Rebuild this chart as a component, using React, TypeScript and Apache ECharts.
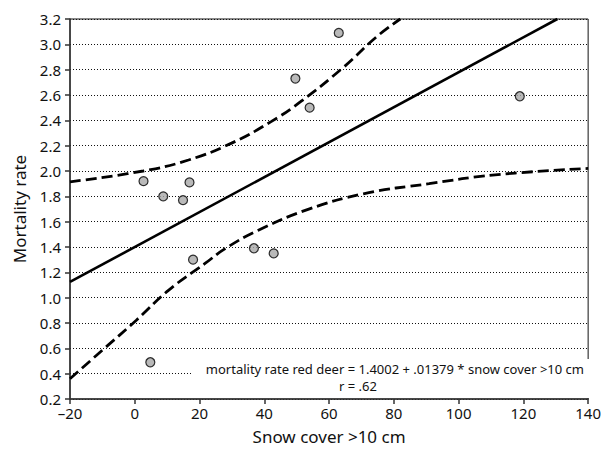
import React, { useEffect, useRef } from "react";
import * as echarts from "echarts";

// Observed data points (snow cover > 10 cm, mortality rate)
const snowCover = [2.7, 8.8, 14.9, 16.9, 18.0, 36.8, 42.9, 4.8, 63.0, 54.0, 118.9, 49.6];
const mortality = [1.92, 1.8, 1.77, 1.91, 1.3, 1.39, 1.35, 0.49, 3.09, 2.5, 2.59, 2.73];

// Regression line endpoints (y = 1.4002 + .01379x), clipped at the plot top
const fitX = [-20, 130.5];
const fitY = [1.124, 3.2];

// Confidence band curves
const upperX = [-20, 2.6, 16.6, 29.9, 42.1, 51.2, 64.5, 74.7, 82.0];
const upperY = [1.915, 2.0, 2.087, 2.22, 2.39, 2.547, 2.82, 3.06, 3.2];
const lowerX = [-20, -9.8, 0.4, 10.5, 21.7, 27.8, 38, 53.3, 70.6, 90.9, 111.3, 140];
const lowerY = [0.36, 0.59, 0.82, 1.06, 1.27, 1.385, 1.53, 1.695, 1.82, 1.9, 1.97, 2.02];

const xTicks = { min: -20, max: 140, interval: 20 };
const yTicks = { min: 0.2, max: 3.2, interval: 0.2 };

const equationText = "mortality rate red deer = 1.4002 + .01379 * snow cover >10 cm";
const rText = "r = .62";

const FONT = "Noto Sans";

function pairs(xs: number[], ys: number[]) {
  return xs.map((x, i) => [x, ys[i]]);
}

export default function App() {
  const ref = useRef<HTMLDivElement>(null);
  useEffect(() => {
    if (!ref.current) return;
    const chart = echarts.init(ref.current, undefined, { renderer: "svg" });
    chart.setOption({
      animation: false,
      backgroundColor: "#fff",
      textStyle: { fontFamily: FONT },
      grid: {
        left: 70,
        right: 10,
        top: 19,
        bottom: 54,
        show: true,
        borderColor: "#111",
        borderWidth: 1,
        backgroundColor: "transparent",
      },
      xAxis: {
        type: "value",
        min: xTicks.min,
        max: xTicks.max,
        interval: xTicks.interval,
        name: "Snow cover >10 cm",
        nameLocation: "middle",
        nameGap: 29,
        nameTextStyle: { fontSize: 17, color: "#111", fontFamily: FONT },
        axisLine: { show: true, onZero: false, lineStyle: { color: "#333", width: 1.5 } },
        axisTick: { show: true, length: 5, lineStyle: { color: "#333", width: 1.5 } },
        axisLabel: {
          fontSize: 15,
          color: "#111",
          margin: 6,
          fontFamily: FONT,
          formatter: (v: number) => (v < 0 ? "\u2013" + Math.abs(v) : String(v)),
        },
        splitLine: { show: false },
      },
      yAxis: {
        type: "value",
        min: yTicks.min,
        max: yTicks.max,
        interval: yTicks.interval,
        name: "Mortality rate",
        nameLocation: "middle",
        nameGap: 42,
        nameTextStyle: { fontSize: 17, color: "#111", fontFamily: FONT },
        axisLine: { show: true, onZero: false, lineStyle: { color: "#333", width: 1.5 } },
        axisTick: { show: true, length: 5, lineStyle: { color: "#333", width: 1.5 } },
        axisLabel: {
          fontSize: 15,
          color: "#111",
          margin: 9,
          fontFamily: FONT,
          formatter: (v: number) => v.toFixed(1),
        },
        splitLine: { show: true, lineStyle: { color: "#111", type: [1, 2], width: 1 } },
      },
      series: [
        {
          type: "line",
          data: pairs(fitX, fitY),
          symbol: "none",
          lineStyle: { color: "#000", width: 2.6 },
          z: 3,
        },
        {
          type: "line",
          data: pairs(upperX, upperY),
          symbol: "none",
          smooth: 0.45,
          lineStyle: { color: "#000", width: 2.8, type: [11, 5] },
          z: 3,
        },
        {
          type: "line",
          data: pairs(lowerX, lowerY),
          symbol: "none",
          smooth: 0.45,
          lineStyle: { color: "#000", width: 2.8, type: [11, 5] },
          z: 3,
        },
        {
          type: "scatter",
          data: pairs(snowCover, mortality),
          symbol: "circle",
          symbolSize: 9,
          itemStyle: { color: "#a8a8a8", borderColor: "#000", borderWidth: 1.2 },
          z: 5,
        },
      ],
      graphic: [
        {
          type: "rect",
          shape: { x: 193, y: 359, width: 399, height: 39 },
          style: { fill: "#fff" },
          z: 4,
        },
        {
          type: "text",
          x: 584,
          y: 369,
          style: {
            text: equationText,
            fontSize: 13,
            fontFamily: FONT,
            fill: "#111",
            align: "right",
            verticalAlign: "middle",
          },
          z: 6,
        },
        {
          type: "text",
          x: 358,
          y: 386,
          style: {
            text: rText,
            fontSize: 13,
            fontFamily: FONT,
            fill: "#111",
            align: "center",
            verticalAlign: "middle",
          },
          z: 6,
        },
      ],
    });
    return () => chart.dispose();
  }, []);
  return (
    <div
      ref={ref}
      style={{ position: "absolute", left: 0, top: 0, width: 604, height: 453 }}
    />
  );
}
